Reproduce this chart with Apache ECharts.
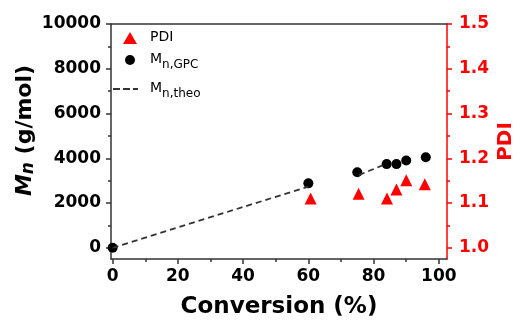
<!DOCTYPE html>
<html>
<head>
<meta charset="utf-8">
<script src="https://cdn.jsdelivr.net/npm/echarts@6/dist/echarts.min.js"></script>
<style>
html, body { margin: 0; padding: 0; background: #fff; }
#chart { width: 520px; height: 320px; }
</style>
</head>
<body>
<div id="chart"></div>
<script>
// Mn,GPC (black circles, left axis)
const gpcConv = [0, 60, 75, 84, 87, 90, 96]
const gpcMn = [0, 2880, 3380, 3740, 3740, 3900, 4050]
// PDI (red triangles, right axis)
const pdiConv = [60.7, 75.4, 84.1, 87, 90, 95.7]
const pdiVal = [1.110, 1.121, 1.110, 1.130, 1.151, 1.142]
// Mn,theo dashed line, drawn in two pieces
const theoConvA = [0, 60]
const theoMnA = [0, 2735]
const theoConvB = [75.5, 84]
const theoMnB = [3250, 3760]

const xTicks = [0, 20, 40, 60, 80, 100]
const xMinor = [10, 30, 50, 70, 90]
const mnTicks = [0, 2000, 4000, 6000, 8000, 10000]
const mnMinor = [1000, 3000, 5000, 7000, 9000]
const pdiTicks = [1.0, 1.1, 1.2, 1.3, 1.4, 1.5]
const pdiMinor = [1.05, 1.15, 1.25, 1.35, 1.45]

const FONT = 'DejaVu Sans'
const RED = '#ff0000'
const AXIS = '#333'

const zip = (a, b) => a.map((v, i) => [v, b[i]])

let chart = echarts.init(document.getElementById('chart'))

const minorAxis = (extra) => Object.assign({
    type: 'value',
    axisLine: { show: false, onZero: false },
    axisLabel: { show: false },
    splitLine: { show: false }
}, extra)

const line = (color) => ({ show: true, onZero: false, lineStyle: { color: color, width: 1.5 } })

// one legend per entry so each icon can have its own size
const legendBox = (name, icon, left, top, w, h, pad) => ({
    orient: 'vertical', left: left, top: top, padding: 0,
    itemWidth: w, itemHeight: h,
    data: [{ name: name, icon: icon }],
    formatter: (n) => n === 'PDI' ? '{m|PDI}' : '{m|M}{s|' + n.slice(1) + '}',
    textStyle: {
        fontFamily: FONT, color: '#000',
        rich: {
            m: { fontFamily: FONT, fontSize: 14, lineHeight: 16, verticalAlign: 'top', padding: [0, 0, 0, pad] },
            s: { fontFamily: FONT, fontSize: 12, lineHeight: 16, verticalAlign: 'top', padding: [7, 0, 0, 0] }
        }
    }
})

const dashIcon = 'path://M0,0h7v2h-7z M10,0h7v2h-7z M20,0h5v2h-5z'

chart.setOption({
    animation: false,
    grid: {
        left: 111, right: 73, top: 24, bottom: 61,
        outerBoundsMode: 'none'
    },
    legend: [
        legendBox('PDI', 'triangle', 123, 30, 14, 12, 8),
        legendBox('Mn,GPC', 'circle', 125, 52, 10, 10, 10),
        legendBox('Mn,theo', dashIcon, 113, 81, 25, 2, 7)
    ],
    xAxis: [
        {
            type: 'value', min: -0.5, max: 102.5, position: 'bottom',
            name: 'Conversion (%)', nameLocation: 'middle', nameGap: 37,
            nameTextStyle: { fontFamily: FONT, fontWeight: 'bold', fontSize: 23, color: '#000' },
            axisLine: line(AXIS),
            axisTick: { customValues: xTicks, length: 5, lineStyle: { color: AXIS, width: 1.5 } },
            axisLabel: { customValues: xTicks, margin: 9, fontFamily: FONT, fontWeight: 'bold', fontSize: 17, color: '#000' },
            splitLine: { show: false }
        },
        minorAxis({
            min: -0.5, max: 102.5, position: 'bottom',
            axisTick: { customValues: xMinor, length: 3, lineStyle: { color: AXIS, width: 1.5 } }
        }),
        // top frame line
        {
            type: 'value', min: -0.5, max: 102.5, position: 'top',
            axisLine: line(AXIS),
            axisTick: { show: false }, axisLabel: { show: false }, splitLine: { show: false }
        }
    ],
    yAxis: [
        {
            type: 'value', min: -500, max: 10000, position: 'left',
            name: '{i|M}{is|n}{b| (g/mol)}', nameLocation: 'middle', nameGap: 71, nameRotate: 90,
            nameMoveOverlap: false,
            nameTextStyle: {
                fontFamily: FONT, fontWeight: 'bold', fontSize: 22, color: '#000',
                padding: [0, 0, 0, 22],
                rich: {
                    i: { fontFamily: FONT, fontWeight: 'bold', fontStyle: 'italic', fontSize: 22, lineHeight: 26, verticalAlign: 'top' },
                    is: { fontFamily: FONT, fontWeight: 'bold', fontStyle: 'italic', fontSize: 17, lineHeight: 26, verticalAlign: 'top', padding: [6, 0, 0, 0] },
                    b: { fontFamily: FONT, fontWeight: 'bold', fontSize: 22, lineHeight: 26, verticalAlign: 'top' }
                }
            },
            axisLine: line(AXIS),
            axisTick: { show: true, customValues: mnTicks, length: 5, lineStyle: { color: AXIS, width: 1.5 } },
            axisLabel: {
                customValues: mnTicks, margin: 10, fontFamily: FONT, fontWeight: 'bold', fontSize: 17, color: '#000',
                formatter: (v) => String(v)
            },
            splitLine: { show: false }
        },
        minorAxis({
            min: -500, max: 10000, position: 'left',
            axisTick: { show: true, customValues: mnMinor, length: 3, lineStyle: { color: AXIS, width: 1.5 } }
        }),
        {
            type: 'value', min: 0.975, max: 1.5, position: 'right',
            name: 'PDI', nameLocation: 'middle', nameGap: 49, nameRotate: 90,
            nameMoveOverlap: false,
            nameTextStyle: { fontFamily: FONT, fontWeight: 'bold', fontSize: 20, color: RED },
            axisLine: line(RED),
            axisTick: { show: true, customValues: pdiTicks, length: 5, lineStyle: { color: RED, width: 1.5 } },
            axisLabel: {
                customValues: pdiTicks, margin: 12, fontFamily: FONT, fontWeight: 'bold', fontSize: 17, color: RED,
                formatter: (v) => v.toFixed(1)
            },
            splitLine: { show: false }
        },
        minorAxis({
            min: 0.975, max: 1.5, position: 'right',
            axisTick: { show: true, customValues: pdiMinor, length: 3, lineStyle: { color: RED, width: 1.5 } }
        })
    ],
    series: [
        {
            name: 'Mn,theo', type: 'line', data: zip(theoConvA, theoMnA),
            symbol: 'none', lineStyle: { color: '#333', width: 1.8, type: [6, 4] },
            itemStyle: { color: '#333' }
        },
        {
            name: 'Mn,theo', type: 'line', data: zip(theoConvB, theoMnB),
            symbol: 'none', lineStyle: { color: '#333', width: 1.8, type: [6, 4] },
            itemStyle: { color: '#333' }
        },
        {
            name: 'PDI', type: 'scatter', yAxisIndex: 2, data: zip(pdiConv, pdiVal),
            symbol: 'triangle', symbolSize: 12, itemStyle: { color: RED, opacity: 1 }
        },
        {
            name: 'Mn,GPC', type: 'scatter', data: zip(gpcConv, gpcMn),
            symbol: 'circle', symbolSize: 10, itemStyle: { color: '#000', opacity: 1 }
        }
    ]
});
</script>
</body>
</html>
